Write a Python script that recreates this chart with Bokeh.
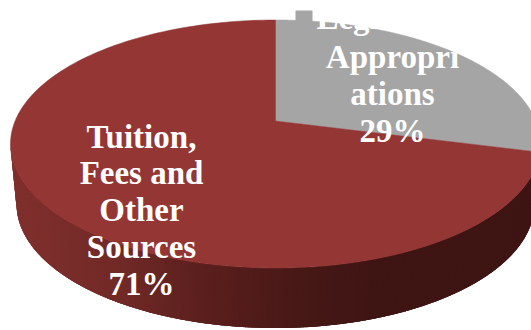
import numpy as np
from bokeh.core.properties import value
from bokeh.embed import file_html
from bokeh.plotting import figure
from bokeh.resources import INLINE

# Slice shares, clockwise from twelve o'clock
shares = [29, 71]
slice_colors = ["#a5a5a5", "#933634"]
grey_label = ["Legislative", "Appropri", "ations", "29%"]
red_label = ["Tuition,", "Fees and", "Other", "Sources", "71%"]

WIDTH, HEIGHT = 531, 330
CX, CY = 275, 143.5      # centre of the rim ellipse
RX, RY = 265, 124        # radii of the rim ellipse
TILT = 0.185             # how far perspective lifts the pie's hub
DEPTH = 60               # height of the pie's side
BASE_RX = 259            # the lower rim recedes slightly


def project(theta):
    """Perspective view of a point on the unit disc, theta clockwise from top."""
    x, y = np.sin(theta), np.cos(theta)
    d = 1 + TILT * y
    return CX + RX * x * np.sqrt(1 - TILT**2) / d, CY - RY * (y + TILT) / d


def blend(pos, stops):
    at = [s[0] for s in stops]
    r = np.interp(pos, at, [s[1][0] for s in stops])
    g = np.interp(pos, at, [s[1][1] for s in stops])
    b = np.interp(pos, at, [s[1][2] for s in stops])
    return f"#{int(r):02x}{int(g):02x}{int(b):02x}"


p = figure(width=WIDTH, height=HEIGHT, x_range=(0, WIDTH), y_range=(HEIGHT, 0),
           output_backend="svg", toolbar_location=None, min_border=0,
           background_fill_color="white", border_fill_color="white", outline_line_color=None)
p.axis.visible = False
p.grid.visible = False

# Side wall, shaded from the lit left edge to the dark right edge.
# Strips run right to left and overlap the next one so no seams show.
side_stops = [(10, (128, 48, 45)), (110, (114, 42, 39)), (190, (92, 32, 30)),
              (300, (70, 24, 22)), (380, (62, 21, 19)), (540, (62, 21, 19))]
phi = np.linspace(0, np.pi, 241)
xs, ys, colors = [], [], []
for a, b in zip(phi[:-1], phi[1:]):
    a2 = max(a - 0.03, 0)
    xs.append([CX + RX * np.cos(a2), CX + RX * np.cos(b), CX + BASE_RX * np.cos(b), CX + BASE_RX * np.cos(a2)])
    ys.append([CY + RY * np.sin(a2), CY + RY * np.sin(b), CY + DEPTH + RY * np.sin(b), CY + DEPTH + RY * np.sin(a2)])
    colors.append(blend(CX + RX * np.cos((a + b) / 2), side_stops))
p.patches(xs, ys, fill_color=colors, line_color=None)

# Top face, one slice per share
hub_y = CY - RY * TILT
start = 0.0
for share, color in zip(shares, slice_colors):
    sweep = 2 * np.pi * share / sum(shares)
    t = np.linspace(start, start + sweep, 240)
    rx, ry = project(t)
    p.patch(np.r_[CX, rx], np.r_[hub_y, ry], fill_color=color, line_color=color, line_width=0.5)
    start += sweep

# Legend swatch left over above the rim
p.rect([303.5], [18.5], width=17, height=17, fill_color=slice_colors[0], line_color=None)

# White labels; parts that run past the grey slice vanish on the white page
font = dict(text_font=value("Liberation Serif"), text_font_style="bold", text_color="white",
            text_align="center", text_baseline="middle", text_font_size="33px")
p.text([392] * 4, [17, 56, 93, 130], text=grey_label, **font)
p.text([141] * 5, [136 + 36.8 * i for i in range(5)], text=red_label, **font)

open("out.html", "w").write(file_html(p, INLINE))
